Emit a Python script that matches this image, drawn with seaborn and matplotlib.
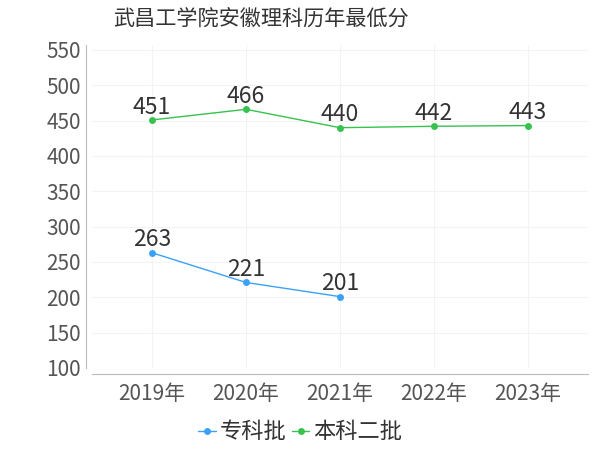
import seaborn as sns
import matplotlib.pyplot as plt
import pandas as pd

years = ['2019年', '2020年', '2021年', '2022年', '2023年']
zhuanke = [263, 221, 201, None, None]
benke2 = [451, 466, 440, 442, 443]
series_names = ['专科批', '本科二批']
colors = ['#3ba1f7', '#37c24f']

df = pd.DataFrame({'year': years, '专科批': zhuanke, '本科二批': benke2})
df_melted = pd.melt(df, id_vars=['year'], value_vars=series_names,
                    var_name='批次', value_name='分数').dropna()

sns.set_style('whitegrid', {'grid.color': '#f3f3f3', 'axes.edgecolor': '#bbbbbb'})
plt.rcParams['font.family'] = ['Noto Sans CJK SC', 'DejaVu Sans']

fig = plt.figure(figsize=(6, 4.5), dpi=100)
ax = fig.add_axes([92 / 600, 1 - 368 / 450, 496 / 600, 323 / 450])

sns.lineplot(data=df_melted, x='year', y='分数', hue='批次', palette=colors,
             marker='o', markersize=5, markeredgewidth=0, linewidth=1, ax=ax, sort=False)

# data labels
for name, color in zip(series_names, colors):
    sub = df_melted[df_melted['批次'] == name]
    for x, y in zip(sub['year'], sub['分数']):
        ax.annotate(f'{int(y)}', (years.index(x), y), xytext=(0, 1),
                    textcoords='offset points', ha='center', va='bottom',
                    fontsize=16.5, color='#333333')

ax.set_xlim(-0.64, 4.64)
ax.set_ylim(100, 557)
ax.set_yticks(range(100, 551, 50))
ax.set_xlabel('')
ax.set_ylabel('')
ax.tick_params(axis='both', labelsize=15, colors='#555555', length=3, color='#bbbbbb')
ax.tick_params(axis='y', length=0, pad=4)
ax.tick_params(axis='x', pad=4)
sns.despine(ax=ax, offset=4)

handles, labels = ax.get_legend_handles_labels()
ax.get_legend().remove()
fig.legend(handles, labels, loc='center', bbox_to_anchor=(0.5, 1 - 432 / 450), ncol=2,
           frameon=False, fontsize=16, handlelength=0.8, handletextpad=0.15,
           columnspacing=0.25, labelcolor='#333333')
fig.suptitle('武昌工学院安徽理科历年最低分', x=0.435, y=0.98, fontsize=15.2, color='#333333')

fig.savefig('out.png', dpi=100)
